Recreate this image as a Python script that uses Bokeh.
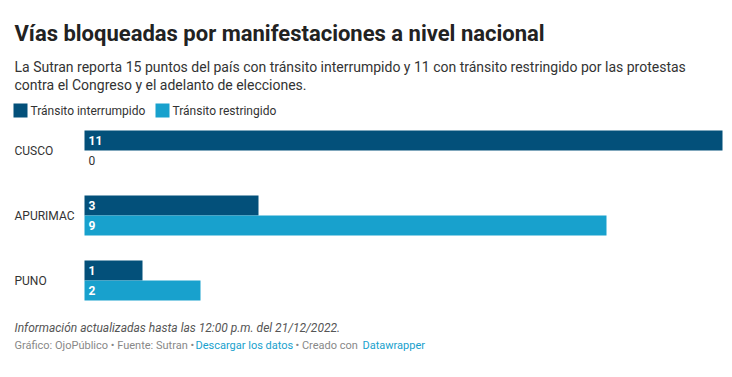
from bokeh.plotting import figure
from bokeh.models import Range1d, Label, ColumnDataSource
from bokeh.core.properties import value
from bokeh.embed import file_html
from bokeh.resources import INLINE

# ---- data ----
regions = ["CUSCO", "APURIMAC", "PUNO"]
interrumpido = [11, 3, 1]
restringido = [0, 9, 2]
series_names = ["Tránsito interrumpido", "Tránsito restringido"]

title_text = "Vías bloqueadas por manifestaciones a nivel nacional"
subtitle_lines = [
    "La Sutran reporta 15 puntos del país con tránsito interrumpido y 11 con tránsito restringido por las protestas",
    "contra el Congreso y el adelanto de elecciones.",
]
note_text = "Información actualizadas hasta las 12:00 p.m. del 21/12/2022."
byline_parts = ["Gráfico: OjoPúblico • Fuente: Sutran •", "Descargar los datos",
                "• Creado con", "Datawrapper"]

# ---- style ----
DARK = "#03507a"
LIGHT = "#18a1cd"
FONT = "Roboto"
W, H = 724, 369
BAR_LEFT = 84          # px where value 0 sits
PX_PER_UNIT = 58.0
BAR_H = 20
GROUP_TOP = 130        # px of first bar top
GROUP_PITCH = 65

p = figure(width=W, height=H, output_backend="svg", toolbar_location=None,
           title=None, min_border=0,
           x_range=Range1d(-BAR_LEFT / PX_PER_UNIT, (W - BAR_LEFT) / PX_PER_UNIT),
           y_range=Range1d(H, 0))
p.xaxis.visible = False
p.yaxis.visible = False
p.grid.visible = False
p.outline_line_color = None
p.background_fill_color = "white"
p.border_fill_color = "white"


def px2x(px):
    return (px - BAR_LEFT) / PX_PER_UNIT


def add_label(text, px, py, size, color, style="normal", baseline="middle", align="left"):
    p.add_layout(Label(x=px2x(px), y=py, text=text, text_font=FONT,
                       text_font_size=f"{size}px", text_color=color,
                       text_font_style=style, text_baseline=baseline, text_align=align))


# header
add_label(title_text, 14, 33, 22, "#222222", style="bold")
add_label(subtitle_lines[0], 14, 66, 14, "#333333")
add_label(subtitle_lines[1], 14, 84, 14, "#333333")

# legend
p.rect(x=[px2x(20), px2x(162)], y=[110, 110], width=14 / PX_PER_UNIT, height=14,
       fill_color=[DARK, LIGHT], line_color=None)
add_label(series_names[0], 30, 110, 12, "#333333")
add_label(series_names[1], 172, 110, 12, "#333333")

# bars
tops_a = [GROUP_TOP + i * GROUP_PITCH for i in range(len(regions))]
tops_b = [t + BAR_H for t in tops_a]
src_a = ColumnDataSource(dict(left=[0] * len(regions), right=interrumpido,
                              top=tops_a, bottom=[t + BAR_H for t in tops_a],
                              lab=[str(v) for v in interrumpido],
                              ymid=[t + BAR_H / 2 for t in tops_a]))
src_b = ColumnDataSource(dict(left=[0] * len(regions), right=restringido,
                              top=tops_b, bottom=[t + BAR_H for t in tops_b]))
p.quad(left="left", right="right", top="top", bottom="bottom", source=src_a,
       fill_color=DARK, line_color=None)
p.quad(left="left", right="right", top="top", bottom="bottom", source=src_b,
       fill_color=LIGHT, line_color=None)

p.text(x=0, y="ymid", text="lab", source=src_a, x_offset=4,
       text_font=value(FONT), text_font_size="12px", text_font_style="bold",
       text_color="white", text_baseline="middle", text_align="left")

idx_in = [i for i, v in enumerate(restringido) if v > 0]
idx_out = [i for i, v in enumerate(restringido) if v == 0]
src_b_in = ColumnDataSource(dict(lab=[str(restringido[i]) for i in idx_in],
                                 ymid=[tops_b[i] + BAR_H / 2 for i in idx_in]))
src_b_out = ColumnDataSource(dict(lab=[str(restringido[i]) for i in idx_out],
                                  ymid=[tops_b[i] + BAR_H / 2 for i in idx_out]))
p.text(x=0, y="ymid", text="lab", source=src_b_in, x_offset=4,
       text_font=value(FONT), text_font_size="12px", text_font_style="bold",
       text_color="white", text_baseline="middle", text_align="left")
p.text(x=0, y="ymid", text="lab", source=src_b_out, x_offset=4,
       text_font=value(FONT), text_font_size="12px", text_font_style="normal",
       text_color="#333333", text_baseline="middle", text_align="left")

# category labels
for i, r in enumerate(regions):
    add_label(r, 14, tops_a[i] + BAR_H, 12, "#333333")

# footer
add_label(note_text, 14, 327, 12, "#555555", style="italic")
byline_x = [14, 195, 295, 362]
byline_col = ["#888888", LIGHT, "#888888", LIGHT]
for t, x, c in zip(byline_parts, byline_x, byline_col):
    add_label(t, x, 345, 11, c)

open("out.html", "w").write(file_html(p, INLINE))
